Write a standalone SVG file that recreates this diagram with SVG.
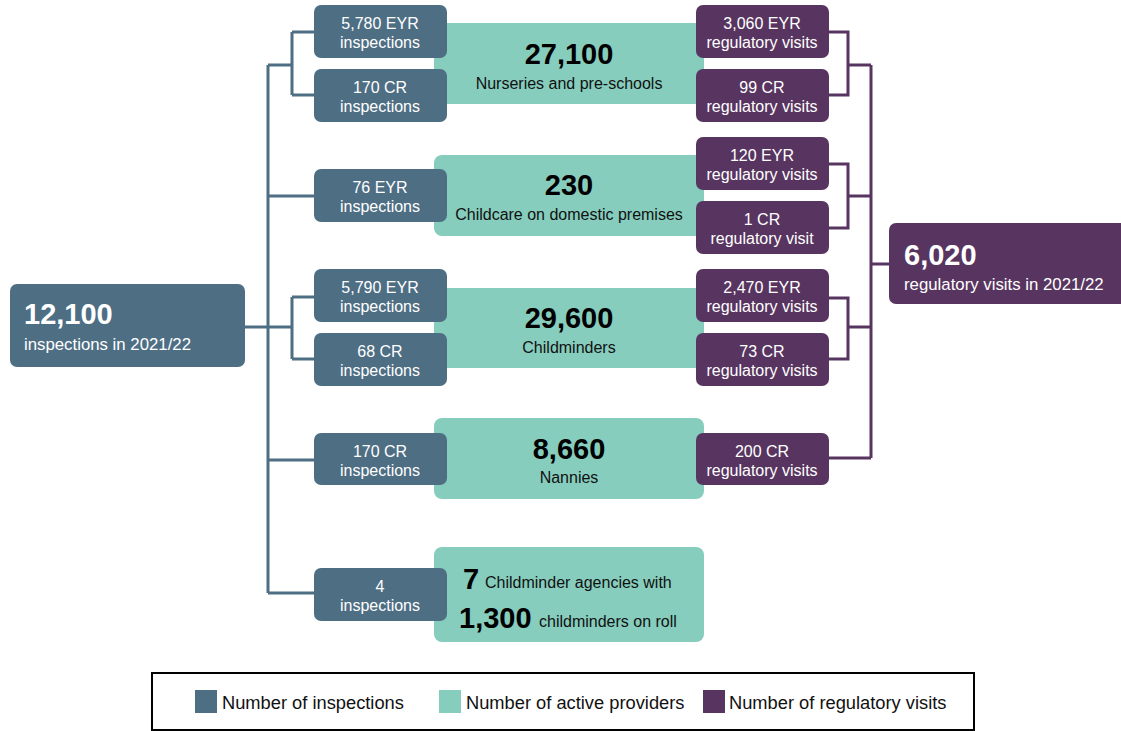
<svg xmlns="http://www.w3.org/2000/svg" width="1121" height="731" viewBox="0 0 1121 731">
<style>
.b{fill:#4e6e84}
.t{fill:#86cdbd}
.p{fill:#583560}
.wl{fill:#fff;font-family:"Liberation Sans",Arial,sans-serif;font-size:16px;text-anchor:middle}
.big{fill:#000;font-family:"Liberation Sans",Arial,sans-serif;font-size:29px;font-weight:bold;text-anchor:middle}
.lab{fill:#111;font-family:"Liberation Sans",Arial,sans-serif;font-size:16px;text-anchor:middle}
.wbig{fill:#fff;font-family:"Liberation Sans",Arial,sans-serif;font-size:29px;font-weight:bold}
.wsub{fill:#fff;font-family:"Liberation Sans",Arial,sans-serif;font-size:16.8px}
.cb{fill:none;stroke:#4e6e84;stroke-width:3}
.cp{fill:none;stroke:#583560;stroke-width:3}
.leg{fill:#111;font-family:"Liberation Sans",Arial,sans-serif;font-size:18.3px}
</style>
<rect width="1121" height="731" fill="#fff"/>
<g id="connectors">
<path class="cb" d="M245 327H268M268 65V593M268 65H292M292 32V95M292 32H314M292 95H314M268 196H314M268 327H292M292 297V359M292 297H314M292 359H314M268 460H314M268 593H314"/>
<path class="cp" d="M829 32H848V95H829M848 65H871M829 164H848V228H829M848 196H871M829 298H848V359H829M848 327H871M829 458H871M871 65V458M871 264H889"/>
</g>
<g id="n-nurseries"><rect class="t" x="434" y="23" width="270" height="81" rx="8"/><text class="big" x="569" y="64">27,100</text><text class="lab" x="569" y="89">Nurseries and pre-schools</text></g>
<g id="n-domestic"><rect class="t" x="434" y="155" width="270" height="81" rx="8"/><text class="big" x="569" y="195">230</text><text class="lab" x="569" y="220">Childcare on domestic premises</text></g>
<g id="n-childminders"><rect class="t" x="434" y="288" width="270" height="80" rx="8"/><text class="big" x="569" y="328">29,600</text><text class="lab" x="569" y="353">Childminders</text></g>
<g id="n-nannies"><rect class="t" x="434" y="418" width="270" height="81" rx="8"/><text class="big" x="569" y="459">8,660</text><text class="lab" x="569" y="483">Nannies</text></g>
<g id="n-agencies"><rect class="t" x="434" y="547" width="270" height="95" rx="8"/>
<text x="463" y="589" style="fill:#000;font-family:'Liberation Sans',Arial,sans-serif;font-size:29px;font-weight:bold">7</text>
<text x="485" y="588" style="fill:#111;font-family:'Liberation Sans',Arial,sans-serif;font-size:16px">Childminder agencies with</text>
<text x="459" y="628" style="fill:#000;font-family:'Liberation Sans',Arial,sans-serif;font-size:29px;font-weight:bold">1,300</text>
<text x="539" y="627" style="fill:#111;font-family:'Liberation Sans',Arial,sans-serif;font-size:16px">childminders on roll</text></g>
<g id="n-total-insp"><rect class="b" x="10" y="284" width="235" height="83" rx="7"/><text class="wbig" x="24" y="324">12,100</text><text class="wsub" x="24" y="350">inspections in 2021/22</text></g>
<g id="n-total-visits"><rect class="p" x="889" y="223" width="240" height="81" rx="7"/><text class="wbig" x="904" y="265">6,020</text><text class="wsub" x="904" y="290">regulatory visits in 2021/22</text></g>
<g id="i1"><rect class="b" x="314" y="5" width="133" height="53" rx="7"/><text class="wl" x="380" y="29">5,780 EYR</text><text class="wl" x="380" y="48">inspections</text></g>
<g id="i2"><rect class="b" x="314" y="69" width="133" height="53" rx="7"/><text class="wl" x="380" y="93">170 CR</text><text class="wl" x="380" y="112">inspections</text></g>
<g id="i3"><rect class="b" x="314" y="169" width="133" height="53" rx="7"/><text class="wl" x="380" y="193">76 EYR</text><text class="wl" x="380" y="212">inspections</text></g>
<g id="i4"><rect class="b" x="314" y="269" width="133" height="53" rx="7"/><text class="wl" x="380" y="293">5,790 EYR</text><text class="wl" x="380" y="312">inspections</text></g>
<g id="i5"><rect class="b" x="314" y="333" width="133" height="53" rx="7"/><text class="wl" x="380" y="357">68 CR</text><text class="wl" x="380" y="376">inspections</text></g>
<g id="i6"><rect class="b" x="314" y="433" width="133" height="52" rx="7"/><text class="wl" x="380" y="457">170 CR</text><text class="wl" x="380" y="476">inspections</text></g>
<g id="i7"><rect class="b" x="314" y="568" width="133" height="53" rx="7"/><text class="wl" x="380" y="592">4</text><text class="wl" x="380" y="611">inspections</text></g>
<g id="v1"><rect class="p" x="696" y="5" width="133" height="53" rx="7"/><text class="wl" x="762" y="29">3,060 EYR</text><text class="wl" x="762" y="48">regulatory visits</text></g>
<g id="v2"><rect class="p" x="696" y="69" width="133" height="53" rx="7"/><text class="wl" x="762" y="93">99 CR</text><text class="wl" x="762" y="112">regulatory visits</text></g>
<g id="v3"><rect class="p" x="696" y="137" width="133" height="53" rx="7"/><text class="wl" x="762" y="161">120 EYR</text><text class="wl" x="762" y="180">regulatory visits</text></g>
<g id="v4"><rect class="p" x="696" y="201" width="133" height="53" rx="7"/><text class="wl" x="762" y="225">1 CR</text><text class="wl" x="762" y="244">regulatory visit</text></g>
<g id="v5"><rect class="p" x="696" y="269" width="133" height="53" rx="7"/><text class="wl" x="762" y="293">2,470 EYR</text><text class="wl" x="762" y="312">regulatory visits</text></g>
<g id="v6"><rect class="p" x="696" y="333" width="133" height="53" rx="7"/><text class="wl" x="762" y="357">73 CR</text><text class="wl" x="762" y="376">regulatory visits</text></g>
<g id="v7"><rect class="p" x="696" y="433" width="133" height="52" rx="7"/><text class="wl" x="762" y="457">200 CR</text><text class="wl" x="762" y="476">regulatory visits</text></g>
<g id="legend">
<rect x="152" y="673" width="822" height="57" fill="#fff" stroke="#000" stroke-width="2"/>
<rect class="b" x="195" y="690" width="22" height="23"/><text class="leg" x="222" y="709">Number of inspections</text>
<rect class="t" x="439" y="690" width="22" height="23"/><text class="leg" x="466" y="709">Number of active providers</text>
<rect class="p" x="703" y="690" width="22" height="23"/><text class="leg" x="729" y="709">Number of regulatory visits</text>
</g>
</svg>
